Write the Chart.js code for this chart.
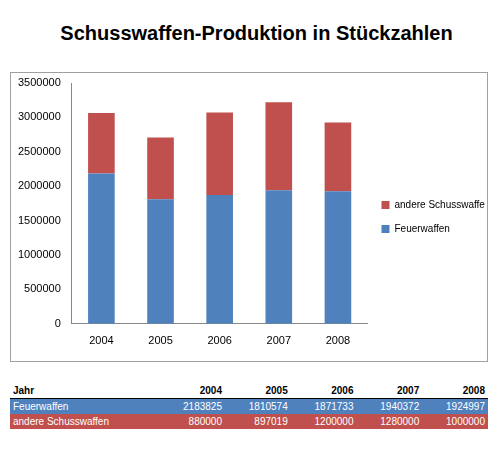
<!DOCTYPE html>
<html>
<head>
<meta charset="utf-8">
<script src="https://cdn.jsdelivr.net/npm/chart.js@4"></script>
<style>
body{margin:0;background:#fff;font-family:"Liberation Sans",Arial,sans-serif;}
#title{position:absolute;left:8px;top:22px;width:497px;text-align:center;font-weight:bold;font-size:20px;}
#box{position:absolute;left:10px;top:72px;width:478px;height:290px;border:1px solid #a0a0a0;box-sizing:border-box;}
table{position:absolute;left:10px;top:383px;width:478px;border-collapse:collapse;font-size:10px;}
td{padding:1px 3px;text-align:right;height:13px;}
td:first-child{text-align:left;}
tr.h td{font-weight:bold;border-bottom:1px solid #000;}
tr.f td{background:#4f81bd;color:#fff;}
tr.a td{background:#c0504d;color:#fff;}
</style>
</head>
<body>
<div id="title">Schusswaffen-Produktion in Stückzahlen</div>
<div id="box"><canvas id="chart"></canvas></div>
<table id="tab"></table>
<script>
// data
const years = ["2004","2005","2006","2007","2008"];
const feuerwaffen = [2183825,1810574,1871733,1940372,1924997];
const andere = [880000,897019,1200000,1280000,1000000];

Chart.defaults.font.family = "'Liberation Sans', Arial, sans-serif";
Chart.defaults.color = "#000";

new Chart(document.getElementById("chart"),{
    type:"bar",
    data:{
        labels:years,
        datasets:[
            {label:"Feuerwaffen",data:feuerwaffen,backgroundColor:"#4f81bd",barPercentage:0.45,categoryPercentage:1},
            {label:"andere Schusswaffen",data:andere,backgroundColor:"#c0504d",barPercentage:0.45,categoryPercentage:1}
        ]
    },
    options:{
        responsive:true,
        maintainAspectRatio:false,
        animation:false,
        layout:{padding:{left:4,top:10,right:2,bottom:10}},
        plugins:{
            legend:{position:"right",reverse:true,
                labels:{boxWidth:8,boxHeight:8,font:{size:10},padding:14}}
        },
        scales:{
            x:{stacked:true,grid:{display:false},border:{color:"#888"},ticks:{font:{size:11}}},
            y:{stacked:true,min:0,max:3500000,
                ticks:{stepSize:500000,font:{size:11},callback:v=>String(v)},
                grid:{display:false,drawTicks:true},border:{color:"#888"}}
        }
    }
});

// table
const tab = document.getElementById("tab");
let html = "<tr class='h'><td>Jahr</td>" + years.map(y=>"<td>"+y+"</td>").join("") + "</tr>";
html += "<tr class='f'><td>Feuerwaffen</td>" + feuerwaffen.map(v=>"<td>"+v+"</td>").join("") + "</tr>";
html += "<tr class='a'><td>andere Schusswaffen</td>" + andere.map(v=>"<td>"+v+"</td>").join("") + "</tr>";
tab.innerHTML = html;
</script>
</body>
</html>
